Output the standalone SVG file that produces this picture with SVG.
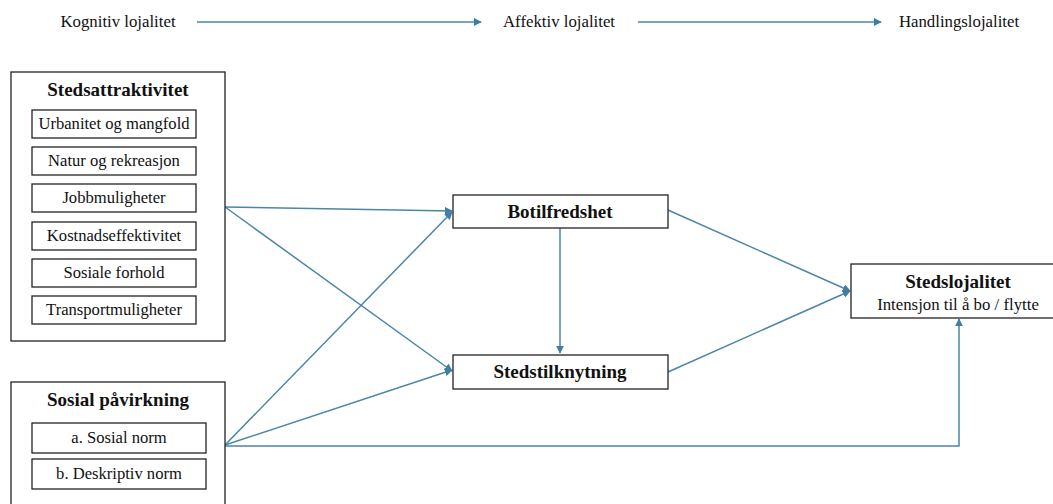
<svg xmlns="http://www.w3.org/2000/svg" width="1053" height="504" viewBox="0 0 1053 504">
<style>
text{font-family:"Liberation Serif","Times New Roman",serif;fill:#111;text-anchor:middle}
.t{font-size:16.8px}
.h{font-size:19px;font-weight:bold}
.i{font-size:16.6px}
.box{fill:#fff;stroke:#222;stroke-width:1.3}
.c{fill:none;stroke:#4a86a8;stroke-width:1.5}
</style>
<defs>
<marker id="ah" viewBox="0 0 10 10" refX="9" refY="5" markerWidth="8" markerHeight="8" markerUnits="userSpaceOnUse" orient="auto">
<path d="M0,0 L10,5 L0,10 z" fill="#3f7ea2"/>
</marker>
</defs>
<rect width="1053" height="504" fill="#fff"/>
<g id="top">
<text class="t" x="118" y="27">Kognitiv lojalitet</text>
<text class="t" x="559" y="27">Affektiv lojalitet</text>
<text class="t" x="959" y="27">Handlingslojalitet</text>
</g>
<g id="connectors">
<line class="c" x1="197" y1="22" x2="481" y2="22" marker-end="url(#ah)"/>
<line class="c" x1="638" y1="22" x2="881" y2="22" marker-end="url(#ah)"/>
<line class="c" x1="225" y1="207" x2="452" y2="211" marker-end="url(#ah)"/>
<line class="c" x1="225" y1="207" x2="452" y2="371" marker-end="url(#ah)"/>
<line class="c" x1="225" y1="445" x2="452" y2="212" marker-end="url(#ah)"/>
<line class="c" x1="225" y1="445" x2="452" y2="370" marker-end="url(#ah)"/>
<polyline class="c" points="225,446 959,446 959,319" marker-end="url(#ah)"/>
<line class="c" x1="560" y1="228" x2="560" y2="353" marker-end="url(#ah)"/>
<line class="c" x1="668" y1="210" x2="850" y2="291" marker-end="url(#ah)"/>
<line class="c" x1="668" y1="372" x2="850" y2="291" marker-end="url(#ah)"/>
</g>
<g id="stedsattraktivitet">
<rect class="box" x="11" y="72" width="214" height="269"/>
<text class="h" x="118" y="96">Stedsattraktivitet</text>
<rect class="box" x="32" y="110" width="164" height="28"/>
<text class="i" x="114" y="129">Urbanitet og mangfold</text>
<rect class="box" x="32" y="147" width="164" height="28"/>
<text class="i" x="114" y="166">Natur og rekreasjon</text>
<rect class="box" x="32" y="184" width="164" height="28"/>
<text class="i" x="114" y="203">Jobbmuligheter</text>
<rect class="box" x="32" y="222" width="164" height="28"/>
<text class="i" x="114" y="241">Kostnadseffektivitet</text>
<rect class="box" x="32" y="259" width="164" height="28"/>
<text class="i" x="114" y="278">Sosiale forhold</text>
<rect class="box" x="32" y="296" width="164" height="28"/>
<text class="i" x="114" y="315">Transportmuligheter</text>
</g>
<g id="sosial">
<rect class="box" x="11" y="382" width="214" height="130"/>
<text class="h" x="118" y="406">Sosial påvirkning</text>
<rect class="box" x="32" y="423" width="174" height="30"/>
<text class="i" x="119" y="443">a. Sosial norm</text>
<rect class="box" x="32" y="459" width="174" height="30"/>
<text class="i" x="119" y="479">b. Deskriptiv norm</text>
</g>
<g id="botilfredshet">
<rect class="box" x="453" y="195" width="215" height="33"/>
<text class="h" x="560" y="218">Botilfredshet</text>
</g>
<g id="stedstilknytning">
<rect class="box" x="453" y="355" width="215" height="34"/>
<text class="h" x="560" y="378">Stedstilknytning</text>
</g>
<g id="stedslojalitet">
<rect class="box" x="851" y="264" width="210" height="54"/>
<text class="h" x="958" y="288">Stedslojalitet</text>
<text class="t" x="958" y="310">Intensjon til å bo / flytte</text>
</g>
</svg>
